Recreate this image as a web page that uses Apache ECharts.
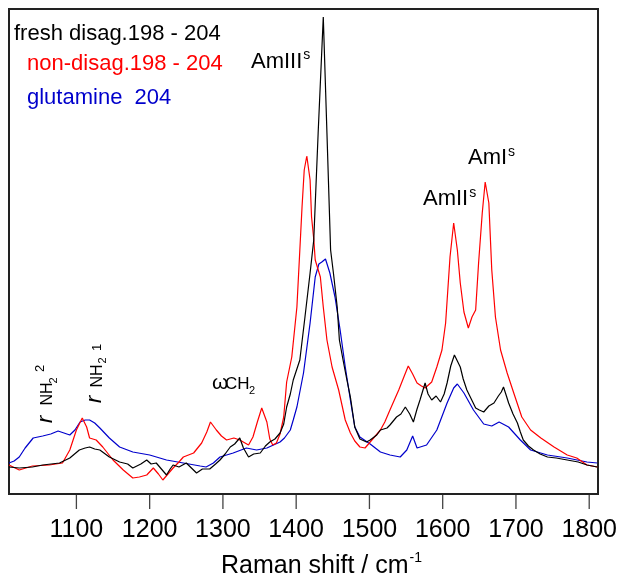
<!DOCTYPE html>
<html>
<head>
<meta charset="utf-8">
<script src="https://cdn.jsdelivr.net/npm/echarts@6/dist/echarts.min.js"></script>
<style>
html,body{margin:0;padding:0;background:#fff;}
#c{width:624px;height:584px;}
</style>
</head>
<body>
<div id="c"></div>
<script>
// Wavenumber tick labels
const xTicks = [1100, 1200, 1300, 1400, 1500, 1600, 1700, 1800];

// fresh disag.198 - 204 (black)
const freshX = [1008,1022,1040,1054,1077,1091,1104,1112,1118,1125,1132,1145,1159,1170,1177,1188,1196,1202,1209,1216,1223,1228,1232,1240,1250,1257,1264,1272,1282,1290,1296,1303,1310,1316,1323,1328,1335,1342,1351,1358,1364,1371,1378,1383,1387,1392,1396,1405,1412,1419,1424,1430,1437,1442,1447,1451,1456,1459,1464,1469,1474,1480,1487,1496,1501,1510,1515,1524,1528,1537,1543,1549,1555,1560,1565,1569,1576,1580,1585,1591,1597,1602,1606,1611,1616,1620,1624,1628,1633,1639,1645,1650,1656,1663,1670,1676,1680,1683,1687,1690,1696,1702,1706,1710,1717,1724,1733,1743,1755,1770,1785,1797,1811];
const freshY = [27,26,27,29,31,36,44,46,47,45,44,37,32,30,26,30,34,30,31,25,19,25,29,27,31,26,21,25,25,30,34,40,47,50,56,46,37,40,41,48,52,55,61,70,87,100,114,134,177,221,254,361,477,361,244,220,187,154,134,115,97,67,55,52,54,59,64,66,69,77,80,87,80,72,85,94,111,100,94,98,92,100,111,128,139,133,127,115,104,95,86,84,82,88,91,98,102,107,98,91,80,71,62,54,48,44,40,37,36,34,32,29,27];

// non-disag.198 - 204 (red)
const nonX = [1008,1022,1040,1063,1081,1091,1100,1108,1114,1118,1127,1136,1150,1164,1177,1186,1196,1205,1212,1218,1225,1232,1240,1246,1260,1271,1278,1283,1291,1298,1305,1315,1323,1335,1341,1347,1353,1360,1364,1368,1373,1378,1383,1387,1394,1401,1405,1408,1411,1414.5,1419,1421,1424,1426,1433,1437,1442,1449,1458,1467,1474,1480,1487,1494,1501,1508,1515,1521,1528,1534,1540,1547,1553,1559,1565,1571,1576,1585,1592,1599,1604,1610,1615,1620,1624,1629,1635,1640,1645,1649,1654,1658,1663,1667,1672,1679,1688,1697,1708,1720,1734,1752,1770,1783,1797,1811];
const nonY = [29,24,28,29,31,44,64,76,67,56,54,47,34,24,16,17,19,26,20,14,20,26,32,37,41,51,62,72,64,58,54,56,54,49,57,72,86,72,55,49,51,60,77,112,137,187,244,287,324,338,314,277,255,234,217,187,154,127,104,74,61,53,47,46,52,58,64,72,84,94,104,117,128,120,111,108,106,112,127,144,171,237,271,244,211,182,166,177,184,231,281,312,291,224,177,144,121,101,77,64,56,47,39,36,29,27];

// glutamine 204 (blue)
const gluX = [1008,1015,1022,1030,1041,1054,1065,1075,1083,1091,1098,1105,1112,1118,1125,1132,1145,1159,1177,1200,1223,1246,1269,1277,1287,1296,1314,1332,1346,1360,1369,1378,1384,1392,1396,1401,1410,1419,1426,1431,1435,1440,1446,1453,1460,1467,1474,1480,1487,1501,1515,1528,1542,1551,1559,1565,1578,1592,1606,1615,1620,1629,1642,1656,1667,1677,1690,1706,1720,1743,1770,1797,1811];
const gluY = [31,33,37,46,56,58,60,63,61,59,64,72,74,74,71,66,56,47,42,39,34,31,28,27,31,37,41,46,44,46,49,52,56,64,74,87,121,171,217,230,232,235,221,197,164,127,94,67,57,50,42,39,37,44,58,46,49,64,91,106,110,101,84,70,68,72,67,54,44,39,36,32,31];

const pair = (xs, ys) => xs.map((x, i) => [x, ys[i]]);
const FONT = '"Liberation Sans", Arial, Helvetica, sans-serif';

const mctx = document.createElement('canvas').getContext('2d');
function tw(text, size, style) {
  mctx.font = (style ? style + ' ' : '') + size + 'px ' + FONT;
  return mctx.measureText(text).width;
}

const chart = echarts.init(document.getElementById('c'), null, {renderer: 'canvas'});

function txt(x, y, text, size, color, extra) {
  return Object.assign({
    type: 'text', x: x, y: y, silent: true,
    style: Object.assign({
      text: text, fontSize: size, fontFamily: FONT, fill: color || '#000',
      align: 'left', verticalAlign: 'middle'
    }, (extra && extra.style) || {})
  }, extra && extra.rot ? {rotation: extra.rot} : {});
}
const R = Math.PI / 2;

function withSup(x, y, main, size, sup, supSize, supDy, gap) {
  const w = tw(main, size);
  return [txt(x, y, main, size, '#000'), txt(x + w + (gap || 1), y + supDy, sup, supSize, '#000')];
}

const titleW = tw('Raman shift / cm', 25);

const labels = [
  txt(14, 34, 'fresh disag.198 - 204', 22, '#000'),
  txt(27, 64, 'non-disag.198 - 204', 22, '#ff0000'),
  txt(27, 98, 'glutamine  204', 22, '#0000cc'),
  ...withSup(251, 62, 'AmIII', 22, 's', 14, -7, 1),
  ...withSup(423, 199, 'AmII', 22, 's', 14, -6, 1),
  ...withSup(468, 158, 'AmI', 22, 's', 14, -6, 1),
  txt(212, 383, 'ω', 21, '#000'),
  txt(225, 384, 'CH', 17, '#000'),
  txt(249, 391, '2', 11, '#000'),
  // r NH2 ^2 (rotated)
  txt(45.5, 423, 'r', 22, '#000', {rot: R, style: {fontStyle: 'italic'}}),
  txt(47.5, 405.5, 'NH', 16, '#000', {rot: R}),
  txt(54, 383.5, '2', 11, '#000', {rot: R}),
  txt(40.5, 372, '2', 13, '#000', {rot: R}),
  // r NH2 ^1 (rotated)
  txt(95, 403, 'r', 22, '#000', {rot: R, style: {fontStyle: 'italic'}}),
  txt(97.5, 387.5, 'NH', 16, '#000', {rot: R}),
  txt(103, 363.5, '2', 11, '#000', {rot: R}),
  txt(97, 351, '1', 13, '#000', {rot: R}),
  // axis title
  txt(221, 566, 'Raman shift / cm', 25, '#000'),
  txt(221 + titleW + 1, 558, '-1', 14, '#000')
];

chart.setOption({
  animation: false,
  backgroundColor: '#fff',
  grid: [
    {left: 9, right: 26, top: 9, bottom: 90, show: true, borderColor: '#222', borderWidth: 2, backgroundColor: 'transparent'},
    // thin strip just under the plot that holds the tick marks
    {left: 9, right: 26, top: 495, height: 14, show: false}
  ],
  xAxis: [
    {
      type: 'value', min: 1008, max: 1812, gridIndex: 0,
      axisLine: {show: false},
      splitLine: {show: false},
      axisTick: {show: false},
      axisLabel: {show: true, customValues: xTicks, margin: 24, fontSize: 25, fontFamily: FONT, color: '#000',
        formatter: v => String(v)}
    },
    {type: 'value', min: 1008, max: 1812, gridIndex: 1, show: false}
  ],
  yAxis: [
    {type: 'value', min: 0, max: 485, show: false, gridIndex: 0},
    {type: 'value', min: 0, max: 1, show: false, gridIndex: 1, inverse: true}
  ],
  series: [
    {type: 'line', name: 'glutamine 204', data: pair(gluX, gluY), showSymbol: false, lineStyle: {color: '#0000cc', width: 1.2}, itemStyle: {color: '#0000cc'}},
    {type: 'line', name: 'non-disag.198 - 204', data: pair(nonX, nonY), showSymbol: false, lineStyle: {color: '#ff0000', width: 1.2}, itemStyle: {color: '#ff0000'}},
    {type: 'line', name: 'fresh disag.198 - 204', data: pair(freshX, freshY), showSymbol: false, lineStyle: {color: '#000000', width: 1.2}, itemStyle: {color: '#000'}},
    {type: 'bar', name: 'ticks', xAxisIndex: 1, yAxisIndex: 1, silent: true,
      data: xTicks.map(v => [v, 1]), barWidth: 1.3, itemStyle: {color: '#444'}}
  ],
  graphic: labels
});
</script>
</body>
</html>
